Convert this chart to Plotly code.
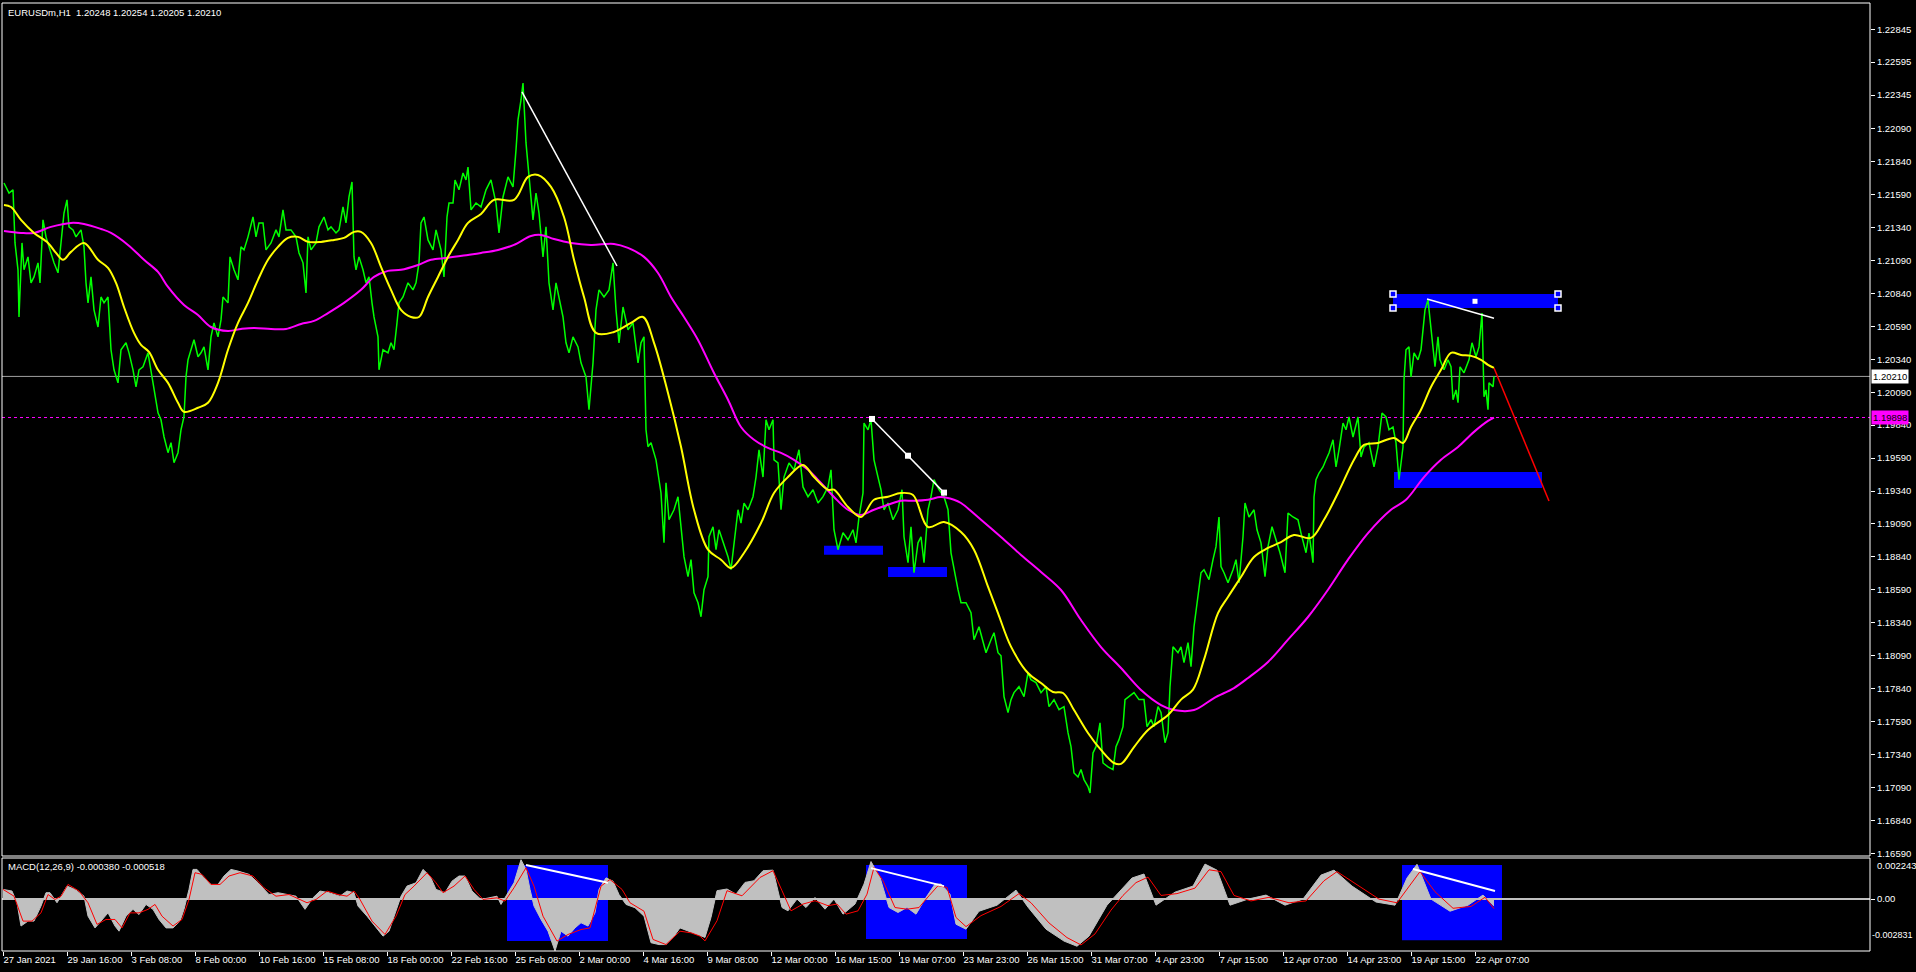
import plotly.graph_objects as go

# ---------------- data (bar index, value) ----------------
tick_bars = [0, 64, 128, 192, 256, 320, 384, 448, 512, 576, 640, 704, 768, 832, 896, 960,
             1024, 1088, 1152, 1216, 1280, 1344, 1408, 1472]
tick_text = ["27 Jan 2021", "29 Jan 16:00", "3 Feb 08:00", "8 Feb 00:00", "10 Feb 16:00",
             "15 Feb 08:00", "18 Feb 00:00", "22 Feb 16:00", "25 Feb 08:00", "2 Mar 00:00",
             "4 Mar 16:00", "9 Mar 08:00", "12 Mar 00:00", "16 Mar 15:00", "19 Mar 07:00",
             "23 Mar 23:00", "26 Mar 15:00", "31 Mar 07:00", "4 Apr 23:00", "7 Apr 15:00",
             "12 Apr 07:00", "14 Apr 23:00", "19 Apr 15:00", "22 Apr 07:00"]

price_ticks = [1.22845, 1.22595, 1.22345, 1.22090, 1.21840, 1.21590, 1.21340, 1.21090, 1.20840,
               1.20590, 1.20340, 1.20090, 1.19840, 1.19590, 1.19340, 1.19090, 1.18840, 1.18590,
               1.18340, 1.18090, 1.17840, 1.17590, 1.17340, 1.17090, 1.16840, 1.16590]

eurusd_close = [
    (1, 1.21678), (6, 1.21602), (10, 1.21626), (12, 1.21223), (15, 1.21019), (16, 1.20661),
    (19, 1.21223), (21, 1.21019), (25, 1.21117), (28, 1.20920), (31, 1.20965), (35, 1.21072),
    (37, 1.20920), (40, 1.21398), (43, 1.21269), (46, 1.21193), (51, 1.21072), (55, 1.20996),
    (58, 1.21223), (61, 1.21450), (64, 1.21550), (66, 1.21345), (70, 1.21322), (73, 1.21269),
    (78, 1.21322), (81, 1.21193), (83, 1.20920), (85, 1.20768), (88, 1.20965), (91, 1.20715),
    (95, 1.20585), (98, 1.20813), (101, 1.20768), (105, 1.20813), (108, 1.20412), (111, 1.20260),
    (115, 1.20161), (118, 1.20412), (123, 1.20465), (126, 1.20389), (130, 1.20260), (133, 1.20131),
    (136, 1.20260), (140, 1.20283), (145, 1.20389), (148, 1.20260), (151, 1.20108), (155, 1.19933),
    (158, 1.19881), (161, 1.19752), (165, 1.19631), (168, 1.19707), (171, 1.19555), (175, 1.19631),
    (178, 1.19805), (181, 1.19904), (183, 1.20206), (185, 1.20336), (188, 1.20412), (191, 1.20488),
    (195, 1.20359), (198, 1.20389), (201, 1.20434), (205, 1.20260), (208, 1.20510), (211, 1.20616),
    (215, 1.20510), (218, 1.20639), (220, 1.20813), (225, 1.20768), (227, 1.21117), (231, 1.21019),
    (235, 1.20943), (238, 1.21193), (241, 1.21170), (245, 1.21269), (250, 1.21420), (253, 1.21269),
    (256, 1.21375), (260, 1.21375), (263, 1.21170), (268, 1.21223), (273, 1.21322), (276, 1.21269),
    (280, 1.21474), (283, 1.21322), (288, 1.21322), (293, 1.21269), (296, 1.21147), (300, 1.21072),
    (303, 1.20843), (305, 1.21269), (308, 1.21170), (313, 1.21223), (316, 1.21345), (321, 1.21420),
    (325, 1.21322), (328, 1.21345), (333, 1.21299), (336, 1.21322), (340, 1.21496), (343, 1.21375),
    (346, 1.21572), (349, 1.21686), (351, 1.21117), (353, 1.21019), (356, 1.21117), (360, 1.21019),
    (363, 1.20920), (366, 1.20965), (369, 1.20768), (371, 1.20661), (375, 1.20510), (376, 1.20260),
    (380, 1.20412), (385, 1.20389), (388, 1.20465), (391, 1.20412), (394, 1.20616), (396, 1.20768),
    (400, 1.20813), (405, 1.20920), (410, 1.20867), (413, 1.20920), (416, 1.21072), (418, 1.21375),
    (421, 1.21420), (425, 1.21246), (430, 1.21170), (433, 1.21322), (438, 1.21170), (441, 1.20965),
    (444, 1.21420), (446, 1.21526), (450, 1.21526), (452, 1.21701), (456, 1.21626), (460, 1.21754),
    (463, 1.21701), (465, 1.21799), (468, 1.21474), (473, 1.21526), (478, 1.21496), (483, 1.21626),
    (488, 1.21701), (493, 1.21526), (496, 1.21299), (500, 1.21572), (505, 1.21724), (510, 1.21648),
    (513, 1.21929), (515, 1.22157), (518, 1.22308), (520, 1.22437), (523, 1.21982), (526, 1.21724),
    (530, 1.21398), (533, 1.21602), (536, 1.21450), (540, 1.21117), (543, 1.21345), (546, 1.20920),
    (550, 1.20715), (553, 1.20920), (556, 1.20813), (560, 1.20661), (563, 1.20465), (566, 1.20389),
    (570, 1.20510), (575, 1.20434), (578, 1.20313), (583, 1.20206), (586, 1.19957), (590, 1.20313),
    (593, 1.20715), (596, 1.20867), (601, 1.20813), (606, 1.20867), (610, 1.21072), (613, 1.20715),
    (616, 1.20465), (620, 1.20737), (625, 1.20564), (630, 1.20616), (635, 1.20313), (638, 1.20465),
    (641, 1.20510), (643, 1.19805), (645, 1.19676), (648, 1.19707), (653, 1.19577), (658, 1.19325),
    (661, 1.18947), (663, 1.19402), (666, 1.19122), (671, 1.19198), (675, 1.19297), (678, 1.19046),
    (681, 1.18842), (685, 1.18690), (688, 1.18819), (691, 1.18568), (695, 1.18492), (698, 1.18386),
    (701, 1.18591), (705, 1.18690), (706, 1.18993), (710, 1.19069), (713, 1.18895), (716, 1.19046),
    (720, 1.18947), (725, 1.18842), (728, 1.18743), (731, 1.18947), (735, 1.19198), (738, 1.19097),
    (741, 1.19249), (745, 1.19198), (750, 1.19297), (753, 1.19446), (756, 1.19653), (760, 1.19446),
    (763, 1.19881), (766, 1.19805), (770, 1.19881), (771, 1.19577), (775, 1.19553), (778, 1.19198),
    (781, 1.19446), (786, 1.19553), (791, 1.19501), (796, 1.19653), (800, 1.19371), (805, 1.19297),
    (810, 1.19350), (815, 1.19249), (820, 1.19297), (825, 1.19371), (828, 1.19501), (831, 1.19046),
    (835, 1.18895), (840, 1.19023), (845, 1.18970), (850, 1.19046), (853, 1.18947), (856, 1.19143),
    (860, 1.19325), (861, 1.19856), (865, 1.19805), (868, 1.19881), (871, 1.19577), (875, 1.19446),
    (878, 1.19350), (881, 1.19198), (885, 1.19249), (890, 1.19122), (895, 1.19198), (899, 1.19350),
    (901, 1.18993), (905, 1.18796), (908, 1.19069), (911, 1.18720), (915, 1.18947), (918, 1.18993),
    (921, 1.18796), (925, 1.19198), (928, 1.19297), (931, 1.19426), (936, 1.19350), (941, 1.19297),
    (945, 1.19198), (948, 1.18871), (951, 1.18743), (955, 1.18591), (958, 1.18492), (963, 1.18492),
    (968, 1.18416), (971, 1.18212), (976, 1.18310), (980, 1.18189), (983, 1.18113), (988, 1.18212),
    (991, 1.18265), (995, 1.18113), (998, 1.18090), (1001, 1.17780), (1005, 1.17659), (1008, 1.17757),
    (1011, 1.17810), (1016, 1.17855), (1021, 1.17780), (1025, 1.17961), (1028, 1.17908), (1033, 1.17886),
    (1038, 1.17810), (1043, 1.17855), (1046, 1.17704), (1051, 1.17757), (1056, 1.17681), (1061, 1.17704),
    (1065, 1.17506), (1068, 1.17400), (1071, 1.17200), (1075, 1.17170), (1078, 1.17226), (1081, 1.17150),
    (1085, 1.17097), (1087, 1.17048), (1090, 1.17352), (1093, 1.17400), (1097, 1.17580), (1100, 1.17276),
    (1105, 1.17246), (1110, 1.17226), (1113, 1.17400), (1116, 1.17453), (1120, 1.17552), (1122, 1.17757),
    (1126, 1.17780), (1131, 1.17810), (1136, 1.17757), (1141, 1.17757), (1144, 1.17552), (1148, 1.17605),
    (1151, 1.17552), (1155, 1.17704), (1158, 1.17659), (1162, 1.17430), (1165, 1.17506), (1167, 1.17855),
    (1170, 1.18158), (1175, 1.18113), (1178, 1.18158), (1181, 1.18037), (1185, 1.18189), (1188, 1.18007),
    (1191, 1.18310), (1195, 1.18568), (1198, 1.18720), (1201, 1.18743), (1206, 1.18667), (1210, 1.18819),
    (1213, 1.18918), (1216, 1.19143), (1218, 1.18766), (1221, 1.18720), (1225, 1.18644), (1230, 1.18743),
    (1233, 1.18819), (1236, 1.18644), (1240, 1.18993), (1242, 1.19249), (1246, 1.19143), (1251, 1.19198),
    (1254, 1.19046), (1258, 1.18947), (1262, 1.18690), (1265, 1.18918), (1269, 1.19069), (1273, 1.18970),
    (1277, 1.18872), (1282, 1.18720), (1285, 1.19173), (1290, 1.19143), (1295, 1.19122), (1298, 1.19021),
    (1303, 1.18872), (1306, 1.19021), (1310, 1.18796), (1311, 1.19295), (1313, 1.19426), (1316, 1.19477),
    (1320, 1.19523), (1323, 1.19577), (1326, 1.19629), (1330, 1.19729), (1333, 1.19523), (1336, 1.19653),
    (1340, 1.19856), (1343, 1.19805), (1346, 1.19902), (1350, 1.19750), (1355, 1.19902), (1358, 1.19598),
    (1361, 1.19674), (1366, 1.19705), (1371, 1.19523), (1375, 1.19674), (1379, 1.19932), (1383, 1.19902),
    (1386, 1.19805), (1390, 1.19826), (1393, 1.19705), (1396, 1.19426), (1400, 1.19674), (1401, 1.20184),
    (1403, 1.20412), (1406, 1.20434), (1408, 1.20206), (1411, 1.20389), (1415, 1.20336), (1418, 1.20412),
    (1420, 1.20564), (1422, 1.20715), (1425, 1.20791), (1427, 1.20639), (1430, 1.20434), (1432, 1.20283),
    (1435, 1.20510), (1437, 1.20336), (1441, 1.20260), (1445, 1.20336), (1448, 1.20283), (1450, 1.20033),
    (1453, 1.20108), (1455, 1.20010), (1457, 1.20283), (1461, 1.20237), (1466, 1.20336), (1469, 1.20465),
    (1473, 1.20359), (1476, 1.20434), (1479, 1.20691), (1481, 1.20055), (1483, 1.20108), (1485, 1.19957),
    (1486, 1.20161), (1490, 1.20131), (1491, 1.20210),
]

ma_fast = [
    (1, 1.21511), (8, 1.21496), (18, 1.21398), (31, 1.21299), (45, 1.21223), (53, 1.21147),
    (60, 1.21095), (68, 1.21155), (81, 1.21223), (95, 1.21095), (105, 1.21034), (113, 1.20920),
    (121, 1.20737), (131, 1.20540), (138, 1.20449), (146, 1.20396), (155, 1.20260), (165, 1.20161),
    (175, 1.20010), (181, 1.19942), (195, 1.19972), (205, 1.20010), (215, 1.20161), (225, 1.20412),
    (235, 1.20616), (245, 1.20768), (255, 1.20943), (265, 1.21095), (275, 1.21193), (285, 1.21261),
    (295, 1.21269), (305, 1.21231), (318, 1.21231), (331, 1.21246), (341, 1.21261), (351, 1.21307),
    (358, 1.21307), (368, 1.21223), (378, 1.21042), (388, 1.20867), (398, 1.20715), (408, 1.20661),
    (416, 1.20661), (425, 1.20813), (435, 1.20965), (445, 1.21117), (455, 1.21246), (465, 1.21375),
    (478, 1.21443), (491, 1.21550), (511, 1.21550), (525, 1.21724), (535, 1.21739), (548, 1.21648),
    (561, 1.21420), (571, 1.21095), (581, 1.20813), (593, 1.20540), (611, 1.20547), (628, 1.20616),
    (640, 1.20661), (651, 1.20465), (665, 1.20084), (678, 1.19676), (691, 1.19198), (705, 1.18895),
    (718, 1.18819), (728, 1.18756), (741, 1.18870), (758, 1.19097), (771, 1.19325), (785, 1.19446),
    (800, 1.19538), (811, 1.19446), (825, 1.19350), (831, 1.19350), (845, 1.19219), (858, 1.19143),
    (871, 1.19274), (885, 1.19297), (898, 1.19325), (910, 1.19310), (925, 1.19067), (941, 1.19105),
    (958, 1.19029), (971, 1.18895), (985, 1.18614), (995, 1.18414), (1008, 1.18159), (1025, 1.17959),
    (1038, 1.17883), (1050, 1.17815), (1060, 1.17807), (1071, 1.17678), (1085, 1.17504), (1098, 1.17375),
    (1111, 1.17276), (1118, 1.17269), (1131, 1.17397), (1145, 1.17527), (1165, 1.17640), (1178, 1.17757),
    (1190, 1.17833), (1201, 1.18060), (1215, 1.18414), (1225, 1.18536), (1238, 1.18688), (1251, 1.18840),
    (1265, 1.18908), (1278, 1.18953), (1291, 1.19006), (1308, 1.18984), (1321, 1.19122), (1335, 1.19325),
    (1351, 1.19577), (1361, 1.19690), (1375, 1.19705), (1391, 1.19743), (1400, 1.19705), (1408, 1.19826),
    (1418, 1.19957), (1428, 1.20130), (1438, 1.20260), (1448, 1.20389), (1458, 1.20373), (1468, 1.20366),
    (1478, 1.20336), (1485, 1.20298), (1491, 1.20275),
]

ma_slow = [
    (1, 1.21314), (18, 1.21299), (31, 1.21299), (48, 1.21345), (68, 1.21375), (81, 1.21367),
    (98, 1.21329), (108, 1.21299), (125, 1.21208), (141, 1.21095), (155, 1.21003), (165, 1.20889),
    (181, 1.20752), (195, 1.20676), (208, 1.20585), (225, 1.20555), (238, 1.20570), (251, 1.20578),
    (268, 1.20570), (283, 1.20570), (298, 1.20608), (311, 1.20631), (325, 1.20691), (341, 1.20768),
    (358, 1.20867), (371, 1.20965), (385, 1.21011), (398, 1.21019), (415, 1.21056), (428, 1.21095),
    (445, 1.21110), (465, 1.21132), (478, 1.21147), (495, 1.21170), (511, 1.21208), (528, 1.21276),
    (538, 1.21284), (551, 1.21253), (568, 1.21223), (588, 1.21208), (611, 1.21215), (625, 1.21185),
    (641, 1.21117), (655, 1.20995), (668, 1.20813), (681, 1.20661), (695, 1.20487), (711, 1.20236),
    (725, 1.20033), (738, 1.19826), (751, 1.19729), (765, 1.19667), (778, 1.19629), (791, 1.19577),
    (805, 1.19501), (818, 1.19402), (831, 1.19295), (845, 1.19198), (858, 1.19159), (871, 1.19198),
    (885, 1.19236), (898, 1.19266), (911, 1.19266), (925, 1.19274), (938, 1.19295), (951, 1.19274),
    (958, 1.19249), (978, 1.19122), (998, 1.18991), (1018, 1.18855), (1038, 1.18726), (1058, 1.18589),
    (1078, 1.18361), (1098, 1.18156), (1118, 1.17997), (1138, 1.17830), (1158, 1.17716), (1171, 1.17678),
    (1191, 1.17678), (1211, 1.17769), (1231, 1.17845), (1245, 1.17921), (1265, 1.18043), (1285, 1.18212),
    (1305, 1.18384), (1325, 1.18591), (1345, 1.18819), (1365, 1.19021), (1388, 1.19198), (1403, 1.19274),
    (1421, 1.19446), (1438, 1.19577), (1455, 1.19674), (1471, 1.19789), (1485, 1.19872), (1491, 1.19898),
]

macd_hist = [
    (0, 0.00053), (9, 0.00044), (14, -0.0002), (18, -0.00147), (25, -0.0012), (31, -0.0012),
    (38, -0.00038), (43, 0.00035), (47, 0.00035), (54, -0.0002), (58, 0.00016), (64, 0.00071),
    (72, 0.00053), (81, 0.00016), (85, -0.00093), (92, -0.00157), (98, -0.0012), (105, -0.00075),
    (112, -0.00147), (116, -0.00175), (123, -0.00093), (130, -0.00056), (136, -0.00084), (143, -0.00029),
    (150, -0.00056), (156, -0.00111), (163, -0.00157), (170, -0.00157), (177, -0.0012), (181, -0.00056),
    (186, 0.00053), (190, 0.00162), (194, 0.00162), (201, 0.00116), (208, 0.0008), (215, 0.0008),
    (221, 0.00126), (228, 0.00162), (235, 0.00153), (246, 0.00135), (255, 0.00089), (266, 0.00025),
    (275, 0.00035), (284, 0.00025), (293, 0.00016), (302, -0.00056), (310, 0.00007), (317, 0.00044),
    (326, 0.00035), (337, 0.00016), (344, 0.00044), (351, 0.00035), (355, -0.00038), (364, -0.00093),
    (373, -0.00157), (380, -0.00202), (386, -0.00175), (391, -0.00093), (398, 0.00016), (404, 0.00071),
    (413, 0.00089), (420, 0.00162), (427, 0.00126), (433, 0.00053), (442, 0.00035), (449, 0.00098),
    (456, 0.00126), (462, 0.00126), (469, 0.00044), (478, -0.00002), (487, 0.00007), (494, 0.00016),
    (498, -0.00029), (505, 0.00035), (511, 0.00089), (518, 0.00215), (523, 0.00162), (527, 0.00053),
    (531, -0.00038), (538, -0.00111), (545, -0.00175), (552, -0.00283), (558, -0.00175), (565, -0.00202),
    (572, -0.00157), (578, -0.00129), (585, -0.00147), (592, -0.00075), (596, 0.00053), (603, 0.00116),
    (610, 0.00098), (616, 0.00025), (623, -0.00029), (632, -0.00047), (641, -0.00093), (648, -0.00238),
    (656, -0.00248), (663, -0.00248), (670, -0.00211), (677, -0.00157), (686, -0.00175), (694, -0.00193),
    (702, -0.00209), (708, -0.001), (714, 0.00046), (724, 0.00055), (733, 0.00027), (742, 0.00091),
    (751, 0.001), (760, 0.00155), (770, 0.00158), (779, -0.00046), (785, -0.00064), (794, 0.0),
    (803, -0.00046), (812, 0.00009), (822, -0.00055), (831, 0.0), (840, -0.00082), (852, -0.00027),
    (861, 0.00082), (868, 0.00205), (877, 0.00118), (886, -0.00046), (895, -0.00073), (904, -0.00046),
    (913, -0.00082), (923, 0.00009), (932, 0.00082), (938, 0.00082), (947, 0.00027), (953, -0.00137),
    (963, -0.00164), (976, -0.00066), (994, -0.00033), (1013, 0.00049), (1025, -0.00044), (1043, -0.00164),
    (1061, -0.00229), (1074, -0.00257), (1086, -0.00202), (1104, -0.00033), (1116, 0.00038), (1129, 0.00115),
    (1141, 0.00137), (1153, -0.00033), (1172, 0.00038), (1190, 0.00071), (1202, 0.00191), (1214, 0.00158),
    (1227, -0.00033), (1245, 0.0), (1263, 0.00022), (1282, -0.00033), (1300, 0.0), (1318, 0.00131),
    (1331, 0.00158), (1349, 0.00071), (1373, -0.00016), (1392, -0.00033), (1404, 0.00115), (1414, 0.00190),
    (1428, 0.0), (1447, -0.00066), (1465, -0.00033), (1480, 0.00022), (1491, -0.00038),
]

macd_signal = [
    (0, 0.00053), (11, 0.00016), (20, -0.0012), (29, -0.0012), (38, -0.00075), (45, 0.00025),
    (52, -0.00002), (58, 0.00016), (65, 0.0008), (76, 0.00044), (85, -0.0002), (94, -0.00138),
    (103, -0.00111), (112, -0.00111), (119, -0.00157), (127, -0.00075), (136, -0.00075), (145, -0.00056),
    (152, -0.00029), (159, -0.00093), (170, -0.00147), (179, -0.00111), (186, -0.00002), (192, 0.00144),
    (199, 0.00135), (208, 0.0008), (217, 0.0008), (226, 0.00126), (237, 0.00144), (250, 0.00126),
    (261, 0.00062), (273, 0.00016), (286, 0.00025), (297, -0.00002), (304, -0.0002), (313, -0.00002),
    (324, 0.00044), (335, 0.00025), (344, 0.00016), (351, 0.00044), (357, -0.00002), (369, -0.0012),
    (382, -0.00193), (393, -0.00093), (402, 0.00025), (411, 0.00071), (424, 0.00144), (433, 0.00089),
    (440, 0.00035), (451, 0.00071), (462, 0.00126), (471, 0.00053), (480, -0.00002), (494, 0.00007),
    (502, -0.00011), (511, 0.00062), (523, 0.00171), (531, 0.00071), (540, -0.00093), (554, -0.00229),
    (565, -0.00193), (578, -0.00166), (587, -0.00157), (598, 0.00071), (607, 0.00107), (619, 0.00053),
    (627, -0.0002), (641, -0.00066), (650, -0.0022), (663, -0.00248), (677, -0.00175), (688, -0.00184),
    (697, -0.00202), (702, -0.00228), (714, -0.00118), (724, 0.00046), (739, 0.00018), (757, 0.00118),
    (770, 0.00155), (779, 0.00046), (788, -0.00064), (800, -0.00027), (812, -0.00009), (825, -0.00036),
    (834, -0.00027), (843, -0.00082), (855, -0.00064), (864, 0.00027), (871, 0.00173), (880, 0.001),
    (892, -0.00046), (904, -0.00055), (916, -0.00046), (926, 0.00018), (935, 0.00073), (944, 0.00064),
    (953, -0.001), (963, -0.0015), (978, -0.0009), (998, -0.0004), (1016, 0.0003), (1028, -0.0002),
    (1046, -0.0013), (1064, -0.0021), (1078, -0.0025), (1092, -0.0019), (1108, -0.0006), (1120, 0.0002),
    (1133, 0.0009), (1145, 0.0012), (1158, 0.0002), (1174, 0.0003), (1192, 0.0006), (1206, 0.0016),
    (1218, 0.0015), (1231, 0.0002), (1248, -0.0001), (1266, 0.0001), (1286, -0.0002), (1303, -0.0001),
    (1321, 0.001), (1334, 0.0015), (1353, 0.0008), (1376, 0.0), (1394, -0.0002), (1407, 0.0008),
    (1417, 0.0015), (1432, 0.0004), (1450, -0.0005), (1468, -0.0004), (1482, 0.0001), (1491, -0.000518),
]

# chart objects (bar index, price)
trend_line_1 = [(519, 1.22369), (614, 1.21048)]
trend_line_2 = [(869, 1.19887), (905, 1.19608), (941, 1.19328)]
trend_line_3 = [(1424, 1.20798), (1491, 1.20651)]
projection_line = [(1491, 1.20274), (1546, 1.19265)]
zones = [(821, 880, 1.18857, 1.18925), (885, 944, 1.18688, 1.18764),
         (1390, 1555, 1.20729, 1.20836), (1391, 1539, 1.19363, 1.19485)]
selected_zone_points = [(1390, 1.20836), (1555, 1.20836), (1390, 1.20729), (1555, 1.20729)]
selected_zone_center = [(1472, 1.20780)]
macd_zones = [(504, 605, -0.00229, 0.00186), (863, 964, -0.00218, 0.00186),
              (1399, 1499, -0.00224, 0.00186)]
macd_trend_lines = [[(523, 0.00186), (605, 0.00089)], [(868, 0.00169), (941, 0.00071)],
                    [(1410, 0.00164), (1492, 0.00044)]]
bid_price = 1.20210
ma_last = 1.19898
macd_range = (-0.002831, 0.002243)
price_range = (1.16570, 1.23044)
title_text = "EURUSDm,H1  1.20248 1.20254 1.20205 1.20210"
macd_text = "MACD(12,26,9) -0.000380 -0.000518"

FONT = "Liberation Sans"
FS = 9.5


def xs(pts):
    return [p[0] for p in pts]


def ys(pts):
    return [p[1] for p in pts]


fig = go.Figure()

# MACD panel
fig.add_trace(go.Scatter(x=xs(macd_hist), y=ys(macd_hist), yaxis="y2", mode="lines",
                         line=dict(color="#C0C0C0", width=1), fill="tozeroy",
                         fillcolor="#C0C0C0", hoverinfo="skip"))
fig.add_trace(go.Scatter(x=xs(macd_signal), y=ys(macd_signal), yaxis="y2", mode="lines",
                         line=dict(color="#FF0000", width=1), hoverinfo="skip"))
for seg in macd_trend_lines:
    fig.add_trace(go.Scatter(x=xs(seg), y=ys(seg), yaxis="y2", mode="lines",
                             line=dict(color="#FFFFFF", width=2), hoverinfo="skip"))

# main panel
fig.add_trace(go.Scatter(x=xs(eurusd_close), y=ys(eurusd_close), mode="lines",
                         line=dict(color="#00FF00", width=1.5), hoverinfo="skip"))
fig.add_trace(go.Scatter(x=xs(ma_slow), y=ys(ma_slow), mode="lines",
                         line=dict(color="#FF00FF", width=2, shape="spline"), hoverinfo="skip"))
fig.add_trace(go.Scatter(x=xs(ma_fast), y=ys(ma_fast), mode="lines",
                         line=dict(color="#FFFF00", width=2, shape="spline"), hoverinfo="skip"))
for seg in (trend_line_1, trend_line_3):
    fig.add_trace(go.Scatter(x=xs(seg), y=ys(seg), mode="lines",
                             line=dict(color="#FFFFFF", width=1.5), hoverinfo="skip"))
fig.add_trace(go.Scatter(x=xs(trend_line_2), y=ys(trend_line_2), mode="lines+markers",
                         line=dict(color="#FFFFFF", width=1.5),
                         marker=dict(symbol="square", size=6, color="#FFFFFF"), hoverinfo="skip"))
fig.add_trace(go.Scatter(x=xs(projection_line), y=ys(projection_line), mode="lines",
                         line=dict(color="#FF0000", width=1.5), hoverinfo="skip"))
fig.add_trace(go.Scatter(x=xs(selected_zone_points), y=ys(selected_zone_points), mode="markers",
                         marker=dict(symbol="square", size=6, color="#0000FF",
                                     line=dict(color="#FFFFFF", width=1.5)), hoverinfo="skip"))
fig.add_trace(go.Scatter(x=xs(selected_zone_center), y=ys(selected_zone_center), mode="markers",
                         marker=dict(symbol="square", size=5, color="#FFFFFF"), hoverinfo="skip"))

shapes = []
for x0, x1, y0, y1 in zones:
    shapes.append(dict(type="rect", xref="x", yref="y", x0=x0, x1=x1, y0=y0, y1=y1,
                       fillcolor="#0000FF", line=dict(width=0), layer="below"))
for x0, x1, y0, y1 in macd_zones:
    shapes.append(dict(type="rect", xref="x", yref="y2", x0=x0, x1=x1, y0=y0, y1=y1,
                       fillcolor="#0000FF", line=dict(width=0), layer="below"))
shapes.append(dict(type="line", xref="x domain", yref="y", x0=0, x1=1, y0=bid_price, y1=bid_price,
                   line=dict(color="#A0A0A0", width=1), layer="below"))
shapes.append(dict(type="line", xref="x domain", yref="y", x0=0, x1=1, y0=ma_last, y1=ma_last,
                   line=dict(color="#FF00FF", width=1, dash="3px,3px"), layer="below"))
shapes.append(dict(type="rect", xref="x domain", yref="y domain", x0=0, x1=1, y0=0, y1=1,
                   line=dict(color="#FFFFFF", width=1), fillcolor="rgba(0,0,0,0)"))
shapes.append(dict(type="rect", xref="x domain", yref="y2 domain", x0=0, x1=1, y0=0, y1=1,
                   line=dict(color="#FFFFFF", width=1), fillcolor="rgba(0,0,0,0)"))

annotations = [
    dict(text=title_text, xref="paper", yref="paper", x=0, y=1, xanchor="left", yanchor="top",
         xshift=4, yshift=-2, showarrow=False, font=dict(family=FONT, size=FS, color="#FFFFFF")),
    dict(text=macd_text, xref="paper", yref="y2 domain", x=0, y=1, xanchor="left", yanchor="top",
         xshift=4, yshift=-1, showarrow=False, font=dict(family=FONT, size=FS, color="#FFFFFF")),
    dict(text=f"{macd_range[1]:.6f}", xref="paper", yref="y2", x=1, y=macd_range[1],
         xanchor="left", yanchor="top", xshift=5, yshift=0, showarrow=False,
         font=dict(family=FONT, size=FS, color="#FFFFFF")),
    dict(text=f"{macd_range[0]:.6f}", xref="paper", yref="y2", x=1, y=macd_range[0],
         xanchor="left", yanchor="bottom", xshift=0, yshift=9, showarrow=False,
         font=dict(family=FONT, size=9, color="#FFFFFF")),
    dict(text=f"{bid_price:.5f}", xref="paper", yref="y", x=1, y=bid_price, xanchor="left",
         yanchor="middle", xshift=1, showarrow=False, bgcolor="#FFFFFF", borderpad=1,
         font=dict(family=FONT, size=FS, color="#000000")),
    dict(text=f"{ma_last:.5f}", xref="paper", yref="y", x=1, y=ma_last, xanchor="left",
         yanchor="middle", xshift=1, showarrow=False, bgcolor="#FF00FF", borderpad=1,
         font=dict(family=FONT, size=FS, color="#000000")),
]

fig.update_layout(
    width=1916, height=972, autosize=False,
    margin=dict(l=2, r=46, t=3, b=21, autoexpand=False),
    paper_bgcolor="#000000", plot_bgcolor="#000000",
    showlegend=False, hovermode=False,
    font=dict(family=FONT, size=FS, color="#FFFFFF"),
    shapes=shapes, annotations=annotations,
    xaxis=dict(domain=[0, 1], range=[-1, 1867], anchor="y2", showgrid=False, zeroline=False,
               tickmode="array", tickvals=tick_bars, ticktext=tick_text, tickangle=0,
               automargin=False,
               ticks="outside", ticklen=4, tickcolor="#FFFFFF", ticklabelposition="outside right",
               tickfont=dict(family=FONT, size=FS, color="#FFFFFF"), showline=False),
    yaxis=dict(domain=[0.1002, 1], range=list(price_range), side="right", anchor="x",
               showgrid=False, zeroline=False, tickmode="array", tickvals=price_ticks,
               automargin=False,
               ticktext=[f"{v:.5f}" for v in price_ticks], ticks="outside", ticklen=4,
               tickcolor="#FFFFFF", tickfont=dict(family=FONT, size=FS, color="#FFFFFF")),
    yaxis2=dict(domain=[0, 0.0981], range=list(macd_range), side="right", anchor="x",
                automargin=False,
                showgrid=False, zeroline=True, zerolinecolor="#C0C0C0", zerolinewidth=2,
                tickmode="array", tickvals=[0.0], ticktext=["0.00"], ticks="outside", ticklen=4,
                tickcolor="#FFFFFF", tickfont=dict(family=FONT, size=FS, color="#FFFFFF")),
)

fig.write_html("out.html", include_plotlyjs=True, config={"displayModeBar": False},
               post_script="document.body.style.margin='0';document.body.style.overflow='hidden';")
